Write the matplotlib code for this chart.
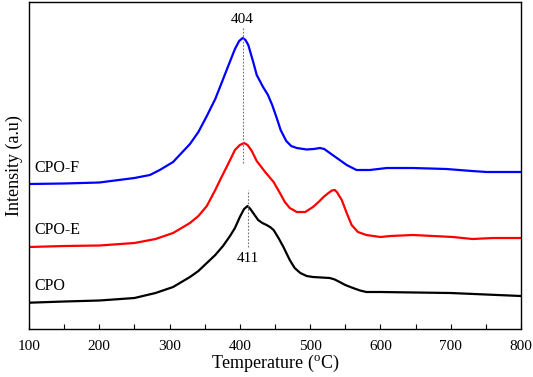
import matplotlib
matplotlib.use("Agg")
import matplotlib.pyplot as plt
from matplotlib.ticker import MultipleLocator

plt.rcParams['font.family'] = ['Liberation Serif', 'DejaVu Serif']
plt.rcParams['mathtext.fontset'] = 'custom'
plt.rcParams['mathtext.rm'] = 'Liberation Serif'
plt.rcParams['mathtext.it'] = 'Liberation Serif:italic'

# CPO (black)
cpo_t = [100, 150, 200, 250, 280, 305, 329, 341, 353, 365, 376, 386, 393, 400, 406, 411, 415,
         419, 426, 432, 438, 443, 448, 455, 462, 471, 478, 486, 495, 504, 516, 528, 535, 542,
         550, 561, 571, 580, 600, 650, 700, 750, 800]
cpo_i = [26.3, 27.5, 28.5, 31, 36, 42, 52, 58, 66, 74, 83, 93, 101, 112, 120, 123, 120,
         116, 109, 106, 104, 102, 99, 91, 82, 69, 61, 56, 53, 52, 51.5, 51, 49.5, 47,
         44, 41, 38.5, 37, 37, 36.5, 36, 34.5, 33]

# CPO-E (red)
cpoe_t = [100, 150, 200, 250, 280, 305, 329, 341, 353, 365, 374, 384, 393, 400, 406, 411, 417,
          424, 436, 448, 457, 464, 471, 481, 493, 504, 512, 519, 526, 531, 535, 538, 545, 552,
          559, 568, 580, 600, 614, 646, 675, 703, 731, 760, 800]
cpoe_i = [82, 83, 83.5, 86, 90, 96, 106, 113, 123, 139, 152, 166, 179, 184, 186, 184, 178,
          168, 157, 147, 136, 127, 121, 117, 117, 122, 127, 132, 136, 138.5, 139, 137, 129, 116,
          104, 97, 94, 92, 93, 94, 93, 92, 90, 91, 91]

# CPO-F (blue)
cpof_t = [100, 150, 200, 250, 272, 286, 305, 329, 341, 353, 365, 374, 384, 393, 399, 404, 408,
          412, 419, 424, 433, 440, 446, 452, 458, 466, 473, 481, 495, 505, 514, 520, 526, 538,
          552, 566, 585, 609, 646, 694, 730, 751, 800]
cpof_i = [145, 145.5, 146.5, 151, 154, 159, 167, 185, 197, 213, 230, 246, 264, 280, 288, 291, 289,
          284, 267, 254, 242, 234, 224, 212, 199, 188, 183, 181, 179.5, 180, 181, 180, 177, 171,
          164, 159, 159, 161, 161, 160, 158, 157, 157]

series_names = ["CPO", "CPO-E", "CPO-F"]
peak_labels = ["404", "411"]

fig = plt.figure(figsize=(5.33, 3.77), dpi=100)
ax = fig.add_axes([0.0544, 0.1273, 0.9231, 0.8674])

ax.plot(cpo_t, cpo_i, color='black', lw=1.6)
ax.plot(cpoe_t, cpoe_i, color='#ff0000', lw=1.6)
ax.plot(cpof_t, cpof_i, color='#0000ff', lw=1.6)

# peak markers
ax.plot([404, 404], [166, 301], ls=(0, (1.5, 1.5)), color='#707070', lw=0.8)
ax.plot([411, 411], [82, 139], ls=(0, (1.5, 1.5)), color='#707070', lw=0.8)
ax.text(404, 309, peak_labels[0], ha='center', va='center', fontsize=11)
ax.text(411, 71, peak_labels[1], ha='center', va='center', fontsize=11)

# series labels
ax.text(108, 161, series_names[2], ha='left', va='center', fontsize=11.5)
ax.text(108, 99, series_names[1], ha='left', va='center', fontsize=11.5)
ax.text(108, 43, series_names[0], ha='left', va='center', fontsize=11.5)

ax.set_xlim(100, 800)
ax.set_ylim(0, 327)
ax.xaxis.set_major_locator(MultipleLocator(100))
ax.xaxis.set_minor_locator(MultipleLocator(50))
ax.tick_params(axis='x', which='both', direction='in', length=3.5, width=0.8,
               labelsize=11, pad=8, top=False)
ax.set_yticks([])
for s in ax.spines.values():
    s.set_linewidth(1.0)

ax.set_xlabel(r'Temperature ($^{\mathrm{o}}$C)', fontsize=13, labelpad=0)
ax.set_ylabel('Intensity (a.u)', fontsize=13, labelpad=4)

fig.savefig('out.png', dpi=100)
